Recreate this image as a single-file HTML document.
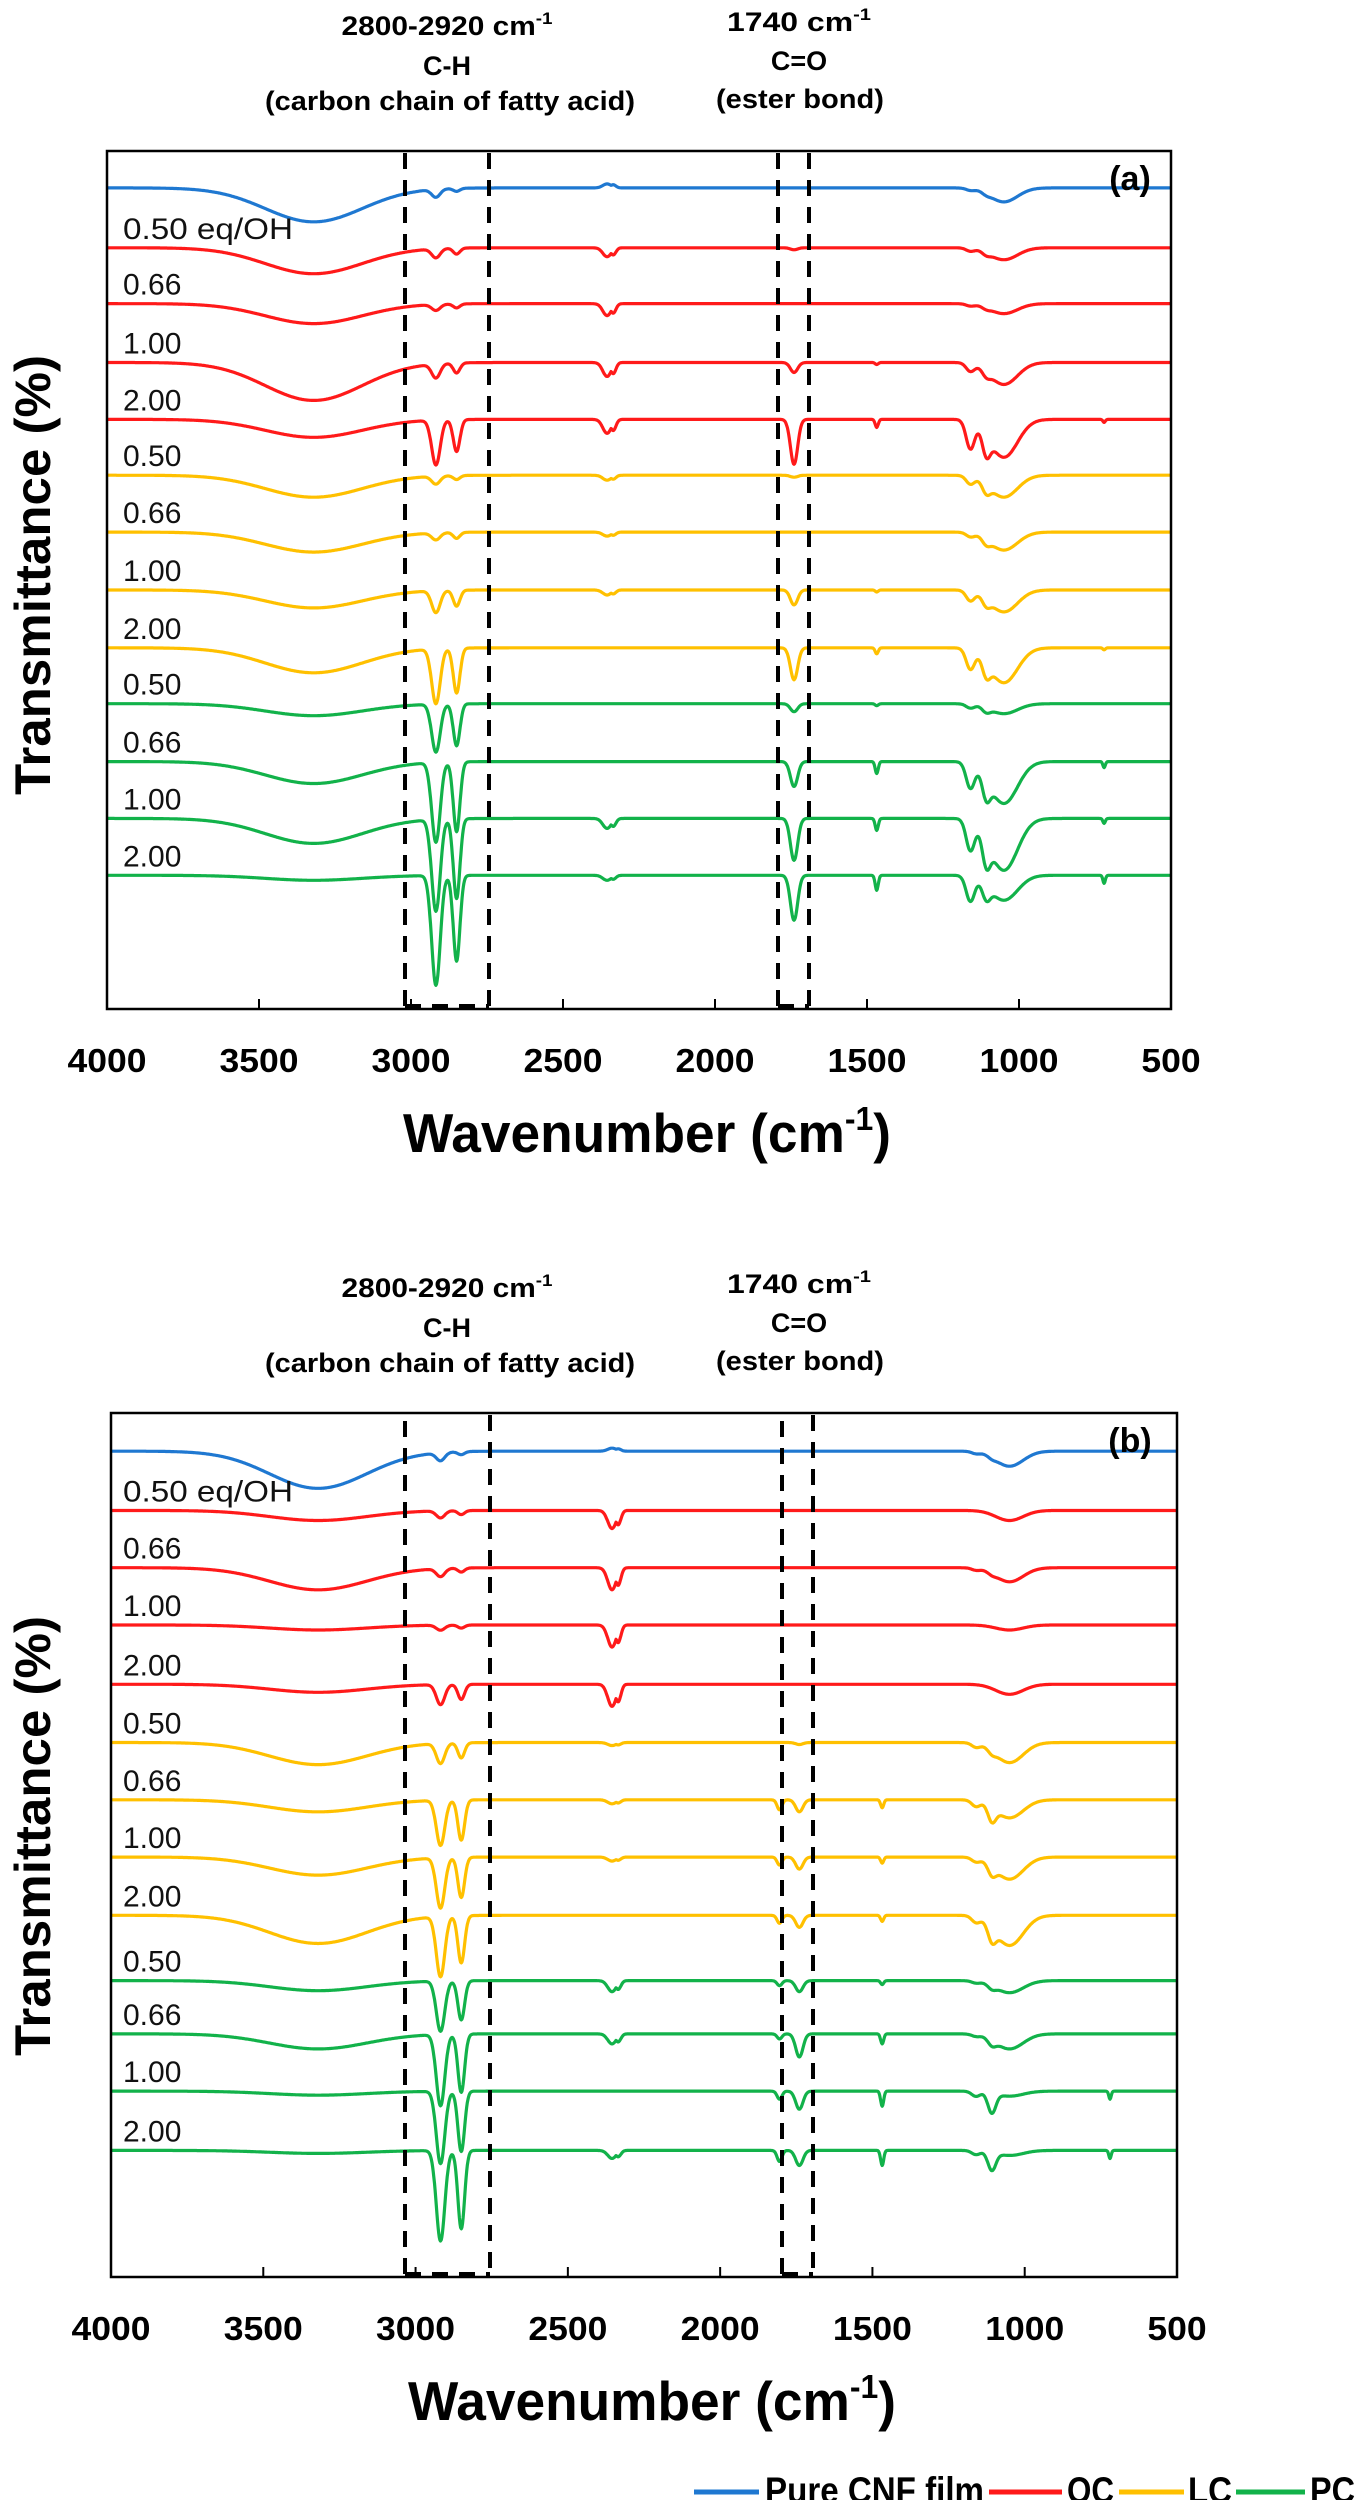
<!DOCTYPE html>
<html><head><meta charset="utf-8"><title>FTIR spectra</title>
<style>html,body{margin:0;padding:0;background:#fff;}svg{display:block;}</style></head>
<body>
<svg id="fig" width="1361" height="2500" viewBox="0 0 1361 2500" xmlns="http://www.w3.org/2000/svg" font-family="'Liberation Sans', sans-serif">
<defs>
<clipPath id="clipA"><rect x="107" y="151" width="1064" height="858"/></clipPath>
<clipPath id="clipB"><rect x="111" y="1413" width="1066" height="864"/></clipPath>
</defs>
<g id="root"></g>
</svg>
<script>
// ---- data ----
const xTicks = [4000, 3500, 3000, 2500, 2000, 1500, 1000, 500];
const featureCenters = [3320, 2918, 2850, 2355, 1805, 1740, 1468, 1160, 1108, 1050, 720];
const featureWidths  = [160, 14, 11, 14, 8, 12, 5, 14, 13, 45, 4];
const seriesNames = ['Pure CNF film', 'OC', 'LC', 'PC'];
const seriesColors = ['#1f78d1', '#ff1a1a', '#ffc000', '#12b24a'];
const spectrumSeries = [0,1,1,1,1,2,2,2,2,3,3,3,3];
const ratioLabels = ['0.50 eq/OH','0.66','1.00','2.00','0.50','0.66','1.00','2.00','0.50','0.66','1.00','2.00'];
// stacking offsets (transmittance units)
const offsetsA = [-37,-97,-153,-212,-269,-325,-382,-440,-498,-554,-612,-669,-726];
const offsetsB = [-38,-97,-154,-211,-270,-328,-385,-442,-500,-565,-618,-675,-734];
// feature depths [OH, CHa, CHs, CO2, 1805, CO, 1470, 1160, 1110, 1050, 720]
const depthsA = [
 [34,8,3,-4,0,0,0,2,2,14,0],
 [26,9,6,9,0,2,0,3,3,12,0],
 [20,6,4,12,0,0,0,2,2,10,0],
 [38,14,10,14,0,10,2,8,6,22,0],
 [18,45,32,14,0,45,8,28,22,38,3],
 [22,8,4,5,0,2,0,8,10,22,0],
 [20,7,6,4,0,0,0,4,6,18,0],
 [18,22,16,5,0,15,2,10,8,22,0],
 [25,55,45,0,0,32,6,20,16,35,2],
 [12,48,42,0,0,8,2,4,5,10,0],
 [22,80,70,0,0,25,12,25,22,42,6],
 [25,92,80,10,0,42,12,30,28,52,5],
 [5,110,86,5,0,45,15,25,15,25,8]
];
const depthsB = [
 [37,8,3,-3,0,0,0,2,2,15,0],
 [10,7,4,18,0,0,0,0,0,10,0],
 [22,8,4,22,0,0,0,2,2,14,0],
 [5,5,3,22,0,0,0,0,0,5,0],
 [8,20,15,22,0,0,0,0,0,10,0],
 [22,20,15,3,0,2,0,4,4,20,0],
 [12,45,40,4,10,12,8,6,15,18,0],
 [18,50,40,4,8,12,6,4,10,22,0],
 [28,60,47,0,8,12,6,6,15,30,0],
 [10,50,39,11,5,11,4,2,4,12,0],
 [15,71,58,10,5,23,10,2,6,15,0],
 [4,72,60,0,8,18,15,5,20,5,8],
 [3,90,78,8,11,15,15,4,18,5,8]
];

const NS = 'http://www.w3.org/2000/svg';
const root = document.getElementById('root');
function mk(tag, attrs, parent) {
  const e = document.createElementNS(NS, tag);
  for (const k in attrs) e.setAttribute(k, attrs[k]);
  (parent || root).appendChild(e);
  return e;
}

const panels = [
  {id:'a', L:107, R:1171, T:151, B:1009, clip:'clipA', offsets:offsetsA, depths:depthsA,
   box1:[405,489], box2:[778,809], hdr:35, hdr2:31},
  {id:'b', L:111, R:1177, T:1413, B:2277, clip:'clipB', offsets:offsetsB, depths:depthsB,
   box1:[405,490], box2:[782,813], hdr:1297, hdr2:1293}
];

panels.forEach(p => {
  const g = mk('g', {});
  
  
  const xS = w => p.L + (4000 - w) / 3500 * (p.R - p.L);
  const yS = v => p.T + (0 - v) / 860 * (p.B - p.T);

  const h1 = mk('text', {x:447, y:p.hdr, 'text-anchor':'middle', 'font-size':27, 'font-weight':'bold', textLength:211, lengthAdjust:'spacingAndGlyphs'}, g);
  
  
  h1.innerHTML = '2800-2920 cm<tspan font-size="17" dy="-11">-1</tspan>';
  const h2 = mk('text', {x:447, y:p.hdr+40, 'text-anchor':'middle', 'font-size':27, 'font-weight':'bold'}, g);
  
  
  h2.textContent = 'C-H';
  const h3 = mk('text', {x:450, y:p.hdr+75, 'text-anchor':'middle', 'font-size':27, 'font-weight':'bold', textLength:370, lengthAdjust:'spacingAndGlyphs'}, g);
  
  
  h3.textContent = '(carbon chain of fatty acid)';
  const h4 = mk('text', {x:799, y:p.hdr2, 'text-anchor':'middle', 'font-size':27, 'font-weight':'bold', textLength:144, lengthAdjust:'spacingAndGlyphs'}, g);
  
  
  h4.innerHTML = '1740 cm<tspan font-size="17" dy="-11">-1</tspan>';
  const h5 = mk('text', {x:799, y:p.hdr2+39, 'text-anchor':'middle', 'font-size':27, 'font-weight':'bold'}, g);
  
  
  h5.textContent = 'C=O';
  const h6 = mk('text', {x:800, y:p.hdr2+77, 'text-anchor':'middle', 'font-size':27, 'font-weight':'bold', textLength:168, lengthAdjust:'spacingAndGlyphs'}, g);
  
  
  h6.textContent = '(ester bond)';

  const sg = mk('g', {'clip-path':'url(#' + p.clip + ')'}, g);
  
  
  p.offsets.forEach((off, i) => {
    const dep = p.depths[i];
    let d = '';
    for (let w = 4000; w >= 500; w -= 2) {
      let v = off;
      for (let k = 0; k < featureCenters.length; k++) {
        if (!dep[k]) continue;
        const z = (w - featureCenters[k]) / featureWidths[k];
        let amp = Math.exp(-0.5 * z * z);
        if (k === 3) { const z2 = (w - 2335) / 9; amp = Math.max(amp, 0.8 * Math.exp(-0.5 * z2 * z2)); }
        v -= dep[k] * amp;
      }
      d += (d ? 'L' : 'M') + xS(w).toFixed(1) + ',' + yS(v).toFixed(1);
    }
    const path = mk('path', {d:d, fill:'none', stroke:seriesColors[spectrumSeries[i]], 'stroke-width':3.2, 'stroke-linejoin':'round'}, sg);
    
    
  });

  ratioLabels.forEach((lab, i) => {
    const attrs = {x:123, y:(yS(p.offsets[i+1]) - 9).toFixed(1), 'font-size':30, fill:'#111'};
    if (i === 0) { attrs.textLength = 170; attrs.lengthAdjust = 'spacingAndGlyphs'; }
    const t = mk('text', attrs, g);
    
    
    t.textContent = lab;
  });

  [p.box1, p.box2].forEach((bx, j) => {
    const r = mk('path', {d:'M' + bx[0] + ',' + (p.B - 3) + 'V' + (p.T + 2) + 'M' + bx[1] + ',' + (p.T + 2) + 'V' + (p.B - 3) + 'M' + bx[0] + ',' + (p.B - 3) + 'H' + bx[1],
      fill:'none', stroke:'#000', 'stroke-width':4, 'stroke-dasharray':'16 11'}, g);
    
    
  });

  const fr = mk('rect', {x:p.L, y:p.T, width:p.R - p.L, height:p.B - p.T, fill:'none', stroke:'#000', 'stroke-width':2.5}, g);
  
  

  xTicks.forEach(t => {
    const x = xS(t);
    const tk = mk('line', {x1:x, x2:x, y1:p.B, y2:p.B - 10, stroke:'#000', 'stroke-width':2}, g);
    
    
    const tl = mk('text', {x:x, y:p.B + 63, 'text-anchor':'middle', 'font-size':33, 'font-weight':'bold', textLength:String(t).length * 19.75, lengthAdjust:'spacingAndGlyphs'}, g);
    
    
    tl.textContent = t;
  });

  const xt = mk('text', {x:(p.L + p.R) / 2 + 8, y:p.B + 143, 'text-anchor':'middle', 'font-size':55, 'font-weight':'bold', textLength:488, lengthAdjust:'spacingAndGlyphs'}, g);
  
  
  xt.innerHTML = 'Wavenumber (cm<tspan font-size="33" dy="-22">-1</tspan><tspan dy="22">)</tspan>';

  const yt = mk('text', {x:0, y:0, transform:'translate(50,' + (p.id === 'a' ? 575 : 1836) + ') rotate(-90)', 'text-anchor':'middle', 'font-size':50, 'font-weight':'bold', textLength:440, lengthAdjust:'spacingAndGlyphs'}, g);
  
  
  yt.textContent = 'Transmittance (%)';

  const pl = mk('text', {x:1130, y:p.T + 39, 'text-anchor':'middle', 'font-size':34, 'font-weight':'bold'}, g);
  
  
  pl.textContent = '(' + p.id + ')';
});

const legend = mk('g', {});


const legLine = [[694,759],[989,1062],[1119,1184],[1236,1305]];
const legText = [[765,219],[1067,47],[1188,44],[1310,45]];
seriesNames.forEach((n, i) => {
  const ln = mk('line', {x1:legLine[i][0], x2:legLine[i][1], y1:2492, y2:2492, stroke:seriesColors[i], 'stroke-width':5}, legend);
  
  
  const tx = mk('text', {x:legText[i][0], y:2503, 'font-size':37, 'font-weight':'bold', textLength:legText[i][1], lengthAdjust:'spacingAndGlyphs'}, legend);
  
  
  tx.textContent = n;
});
</script>
</body></html>
